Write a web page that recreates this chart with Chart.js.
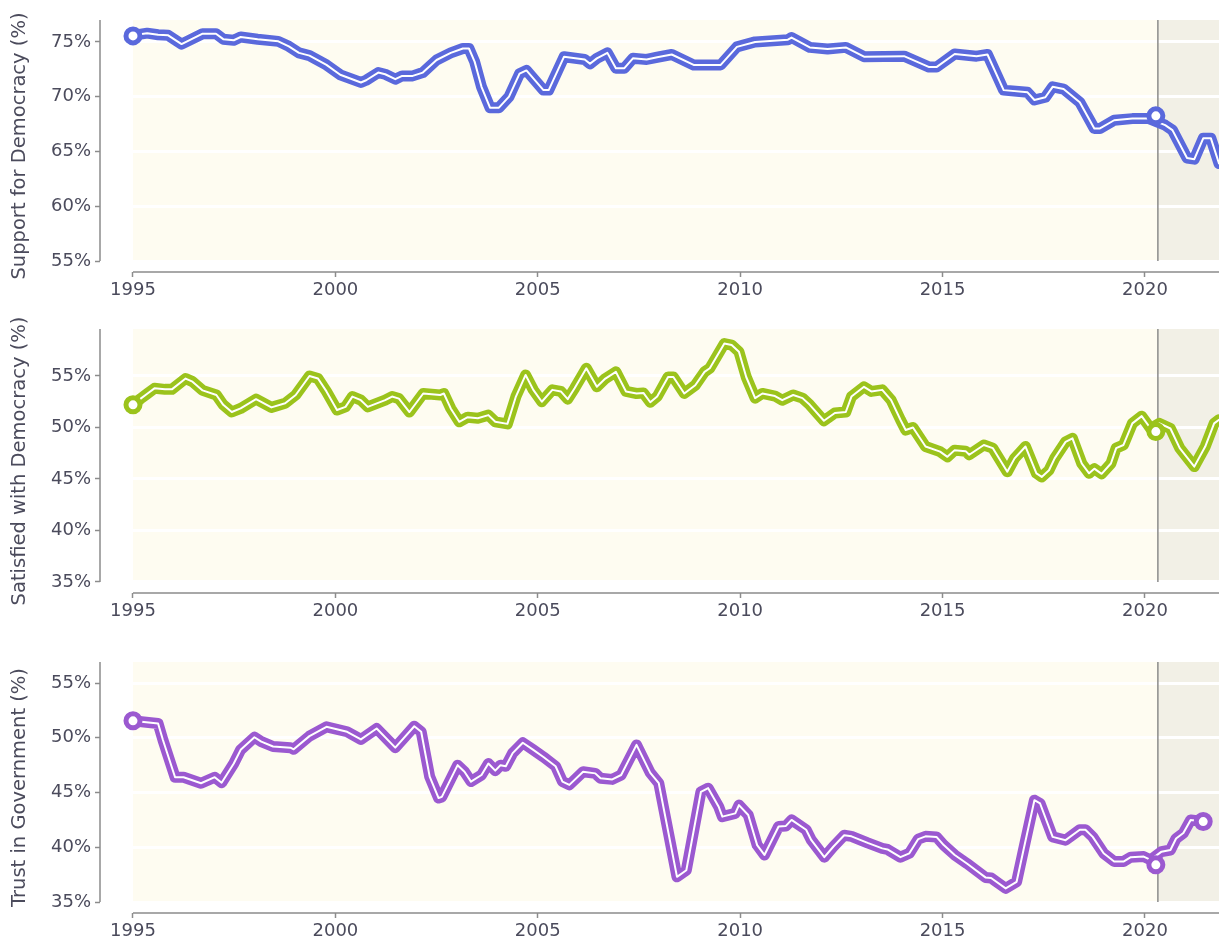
<!DOCTYPE html>
<html>
<head>
<meta charset="utf-8">
<script src="https://cdn.jsdelivr.net/npm/chart.js@4.4.1/dist/chart.umd.min.js"></script>
<style>
  html, body { margin: 0; padding: 0; background: #ffffff; overflow: hidden; }
  .panel { position: absolute; left: 0; }
  canvas { display: block; }
</style>
</head>
<body>
<div class="panel" style="top:0px"><canvas id="c1" width="1219" height="310"></canvas></div>
<div class="panel" style="top:310px"><canvas id="c2" width="1219" height="320"></canvas></div>
<div class="panel" style="top:630px"><canvas id="c3" width="1219" height="310"></canvas></div>
<script>
// tick labels
const xTicks = [1995, 2000, 2005, 2010, 2015, 2020];
const supportTicks = [55, 60, 65, 70, 75];
const satisfiedTicks = [35, 40, 45, 50, 55];
const trustTicks = [35, 40, 45, 50, 55];

// Support for Democracy (%)
const supportYears = [1995.0, 1995.35, 1995.62, 1995.87, 1996.2, 1996.72, 1997.05, 1997.23, 1997.49, 1997.66,
  1998.08, 1998.59, 1998.85, 1999.1, 1999.36, 1999.78, 2000.12, 2000.63, 2000.76, 2001.06,
  2001.23, 2001.48, 2001.65, 2001.91, 2002.16, 2002.5, 2002.85, 2003.15, 2003.3, 2003.44,
  2003.61, 2003.82, 2004.04, 2004.29, 2004.55, 2004.72, 2005.14, 2005.27, 2005.65, 2006.16,
  2006.29, 2006.46, 2006.72, 2006.93, 2007.14, 2007.35, 2007.69, 2007.95, 2008.31, 2008.85,
  2009.52, 2009.92, 2010.37, 2011.18, 2011.27, 2011.72, 2012.16, 2012.61, 2013.06, 2014.05,
  2014.67, 2014.85, 2015.3, 2015.84, 2016.11, 2016.51, 2017.1, 2017.27, 2017.54, 2017.72,
  2017.99, 2018.39, 2018.75, 2018.89, 2019.24, 2019.69, 2020.1, 2020.5, 2020.68, 2021.04,
  2021.22, 2021.44, 2021.63, 2021.83, 2021.95];
const supportValues = [75.6, 75.8, 75.65, 75.6, 74.8, 75.75, 75.75, 75.25, 75.15, 75.45,
  75.25, 75.05, 74.6, 74.0, 73.75, 72.9, 72.0, 71.3, 71.5, 72.2,
  72.05, 71.6, 71.9, 71.9, 72.2, 73.35, 74.0, 74.4, 74.4, 73.2,
  70.9, 69.0, 69.0, 70.0, 72.1, 72.4, 70.6, 70.6, 73.65, 73.4,
  73.0, 73.5, 74.0, 72.6, 72.6, 73.5, 73.4, 73.6, 73.85, 72.9,
  72.9, 74.55, 75.0, 75.2, 75.4, 74.5, 74.35, 74.5, 73.65, 73.7,
  72.7, 72.7, 73.9, 73.7, 73.85, 70.6, 70.4, 69.7, 69.95, 70.9,
  70.7, 69.5, 67.1, 67.1, 67.85, 68.0, 68.0, 67.4, 66.95, 64.4,
  64.3, 66.2, 66.2, 63.9, 63.5];
const supportMarkYears = [1995.0, 2020.27];
const supportMarkValues = [75.55, 68.25];

// Satisfied with Democracy (%)
const satisfiedYears = [1995.0, 1995.19, 1995.36, 1995.53, 1995.79, 1995.96, 1996.3, 1996.47, 1996.72, 1997.06,
  1997.23, 1997.44, 1997.66, 1998.04, 1998.42, 1998.76, 1999.02, 1999.36, 1999.57, 1999.78,
  2000.04, 2000.25, 2000.42, 2000.63, 2000.8, 2001.23, 2001.4, 2001.57, 2001.83, 2002.17,
  2002.59, 2002.68, 2002.85, 2003.06, 2003.27, 2003.52, 2003.78, 2003.95, 2004.25, 2004.46,
  2004.7, 2004.89, 2005.1, 2005.36, 2005.57, 2005.74, 2005.91, 2006.2, 2006.46, 2006.67,
  2006.93, 2007.18, 2007.44, 2007.61, 2007.78, 2007.95, 2008.22, 2008.35, 2008.62, 2008.89,
  2009.12, 2009.25, 2009.61, 2009.79, 2009.97, 2010.15, 2010.37, 2010.55, 2010.86, 2011.04,
  2011.31, 2011.54, 2011.72, 2012.07, 2012.34, 2012.61, 2012.75, 2013.06, 2013.24, 2013.51,
  2013.73, 2013.96, 2014.09, 2014.27, 2014.58, 2014.94, 2015.12, 2015.3, 2015.57, 2015.66,
  2016.02, 2016.24, 2016.6, 2016.78, 2017.05, 2017.32, 2017.45, 2017.63, 2017.77, 2018.04,
  2018.21, 2018.44, 2018.62, 2018.75, 2018.93, 2019.16, 2019.29, 2019.47, 2019.69, 2019.92,
  2020.14, 2020.36, 2020.63, 2020.86, 2021.22, 2021.49, 2021.71, 2021.83, 2021.95];
const satisfiedValues = [52.2, 52.8, 53.3, 53.8, 53.7, 53.7, 54.75, 54.45, 53.6, 53.15,
  52.2, 51.5, 51.85, 52.75, 51.95, 52.35, 53.15, 55.0, 54.75, 53.5,
  51.7, 52.0, 53.0, 52.65, 52.0, 52.65, 53.0, 52.8, 51.5, 53.3,
  53.15, 53.3, 51.85, 50.55, 51.0, 50.9, 51.2, 50.55, 50.35, 53.0,
  55.1, 53.65, 52.5, 53.65, 53.5, 52.75, 53.8, 55.75, 53.95, 54.75,
  55.4, 53.5, 53.3, 53.35, 52.45, 53.0, 54.9, 54.9, 53.3, 54.1,
  55.4, 55.75, 58.15, 58.0, 57.35, 54.9, 52.85, 53.3, 53.05, 52.65,
  53.15, 52.85, 52.2, 50.65, 51.4, 51.5, 53.0, 53.95, 53.5, 53.65,
  52.65, 50.75, 49.75, 50.0, 48.15, 47.65, 47.15, 47.8, 47.7, 47.35,
  48.3, 48.0, 45.7, 47.0, 48.15, 45.55, 45.2, 45.85, 47.0, 48.6,
  48.95, 46.5, 45.55, 46.0, 45.5, 46.5, 48.0, 48.3, 50.4, 51.1,
  49.9, 50.4, 49.9, 48.0, 46.2, 48.15, 50.4, 50.75, 51.0];
const satisfiedMarkYears = [1995.0, 2020.27];
const satisfiedMarkValues = [52.2, 49.6];

// Trust in Government (%)
const trustYears = [1995.0, 1995.27, 1995.62, 1995.74, 1996.04, 1996.25, 1996.68, 1997.02, 1997.19, 1997.49,
  1997.66, 1998.0, 1998.17, 1998.46, 1998.89, 1998.97, 1999.36, 1999.78, 2000.29, 2000.63,
  2001.02, 2001.48, 2001.95, 2002.12, 2002.33, 2002.55, 2002.63, 2003.02, 2003.19, 2003.35,
  2003.61, 2003.78, 2003.95, 2004.08, 2004.21, 2004.38, 2004.63, 2004.89, 2005.14, 2005.44,
  2005.61, 2005.78, 2006.12, 2006.42, 2006.55, 2006.84, 2007.06, 2007.44, 2007.78, 2007.99,
  2008.44, 2008.67, 2009.03, 2009.21, 2009.47, 2009.56, 2009.88, 2009.97, 2010.2, 2010.42,
  2010.6, 2010.95, 2011.13, 2011.27, 2011.63, 2011.76, 2012.08, 2012.3, 2012.57, 2012.75,
  2013.15, 2013.51, 2013.64, 2013.96, 2014.18, 2014.4, 2014.58, 2014.85, 2015.03, 2015.3,
  2015.61, 2016.06, 2016.2, 2016.56, 2016.83, 2017.0, 2017.27, 2017.41, 2017.72, 2018.04,
  2018.39, 2018.53, 2018.71, 2018.98, 2019.24, 2019.47, 2019.65, 2019.97, 2020.14, 2020.41,
  2020.63, 2020.77, 2020.95, 2021.13, 2021.44];
const trustValues = [51.55, 51.45, 51.3, 49.8, 46.4, 46.4, 45.85, 46.4, 45.9, 47.65,
  48.9, 50.05, 49.65, 49.2, 49.1, 48.95, 50.15, 51.0, 50.55, 49.85,
  50.85, 49.1, 51.05, 50.55, 46.45, 44.5, 44.6, 47.5, 46.9, 46.0,
  46.6, 47.65, 47.0, 47.5, 47.4, 48.6, 49.55, 48.9, 48.25, 47.4,
  46.0, 45.7, 46.9, 46.75, 46.3, 46.2, 46.6, 49.35, 46.8, 45.85,
  37.3, 37.9, 45.05, 45.4, 43.7, 42.8, 43.1, 43.85, 42.95, 40.2,
  39.3, 41.9, 41.95, 42.5, 41.6, 40.65, 39.1, 40.05, 41.1, 41.0,
  40.4, 39.9, 39.8, 39.1, 39.45, 40.75, 41.0, 40.95, 40.2, 39.3,
  38.5, 37.25, 37.2, 36.25, 36.85, 39.75, 44.3, 44.0, 40.95, 40.65,
  41.6, 41.6, 40.95, 39.45, 38.7, 38.7, 39.1, 39.15, 38.85, 39.6,
  39.75, 40.8, 41.3, 42.5, 42.35];
const trustMarkYears = [1995.0, 2020.27, 2021.44];
const trustMarkValues = [51.55, 38.4, 42.35];

const textColor = '#4b4b5c';
const axisColor = '#8c8c8c';
const font = { family: 'DejaVu Sans', size: 18 };
const titleFont = { family: 'DejaVu Sans', size: 19.5 };

// Hintergrund, Trennlinie und Achsenlinien
const panelDecor = {
  id: 'panelDecor',
  beforeDraw(chart, args, opts) {
    const { ctx, chartArea, scales: { x, y } } = chart;
    const x0 = x.getPixelForValue(opts.start);
    const xs = x.getPixelForValue(opts.split);
    const yBot = y.getPixelForValue(opts.floor);
    ctx.save();
    ctx.fillStyle = '#fefcf1';
    ctx.fillRect(x0, chartArea.top, xs - x0, yBot - chartArea.top);
    ctx.fillStyle = '#f2f0e6';
    ctx.fillRect(xs, chartArea.top, chartArea.right - xs, yBot - chartArea.top);
    ctx.restore();
  },
  beforeDatasetsDraw(chart, args, opts) {
    const { ctx, chartArea, scales: { x, y } } = chart;
    const x0 = x.getPixelForValue(opts.start);
    const xs = x.getPixelForValue(opts.split);
    const yBot = y.getPixelForValue(opts.floor);
    ctx.save();
    ctx.strokeStyle = axisColor;
    ctx.lineWidth = 1.5;
    ctx.beginPath();
    ctx.moveTo(xs, chartArea.top);
    ctx.lineTo(xs, yBot);
    // y spine
    ctx.moveTo(chartArea.left, chartArea.top);
    ctx.lineTo(chartArea.left, yBot);
    // x spine
    ctx.moveTo(x0, chartArea.bottom);
    ctx.lineTo(chartArea.right, chartArea.bottom);
    ctx.stroke();
    ctx.restore();
  }
};

function makePanel(id, cfg) {
  const pts = cfg.years.map((t, i) => ({ x: t, y: cfg.values[i] }));
  const marks = cfg.markYears.map((t, i) => ({ x: t, y: cfg.markValues[i] }));
  return new Chart(document.getElementById(id), {
    type: 'line',
    data: {
      datasets: [
        { data: marks, showLine: false, pointRadius: 7, pointBorderWidth: 5,
          pointBackgroundColor: '#ffffff', pointBorderColor: cfg.color, order: 0 },
        { data: pts, borderColor: '#ffffff', borderWidth: 2, pointRadius: 0,
          borderJoinStyle: 'round', borderCapStyle: 'round', order: 1 },
        { data: pts, borderColor: cfg.color, borderWidth: 11, pointRadius: 0,
          borderJoinStyle: 'round', borderCapStyle: 'round', order: 2 }
      ]
    },
    options: {
      responsive: false,
      animation: false,
      layout: { autoPadding: false, padding: { top: cfg.top, left: 0, right: 0, bottom: 0 } },
      plugins: {
        legend: { display: false },
        tooltip: { enabled: false },
        panelDecor: { start: 1995, split: 2020.32, floor: cfg.ticks[0] }
      },
      scales: {
        x: {
          type: 'linear', min: 1994.185, max: 2021.83,
          afterBuildTicks: s => { s.ticks = xTicks.map(v => ({ value: v })); },
          afterFit: s => { s.height = cfg.xh; },
          ticks: { callback: v => String(v), font, color: textColor, padding: 3, maxRotation: 0, autoSkip: false },
          grid: { drawOnChartArea: false, tickLength: 5, tickColor: axisColor, tickWidth: 1.5 },
          border: { display: false }
        },
        y: {
          min: cfg.min, max: cfg.max,
          afterBuildTicks: s => { s.ticks = cfg.ticks.map(v => ({ value: v })); },
          afterFit: s => { s.width = 100; },
          ticks: { callback: v => v + '%', font, color: textColor, padding: 4 },
          grid: { color: '#ffffff', lineWidth: 3, tickLength: 5, tickColor: axisColor, tickWidth: 1.5 },
          border: { display: false },
          title: { display: true, text: cfg.title, font: titleFont, color: textColor, padding: { top: 8, bottom: 0 } }
        }
      }
    },
    plugins: [panelDecor]
  });
}

makePanel('c1', { years: supportYears, values: supportValues, markYears: supportMarkYears,
  markValues: supportMarkValues, color: '#5a69dc', ticks: supportTicks, min: 54.0, max: 77.0,
  top: 20, xh: 38, title: 'Support for Democracy (%)' });
makePanel('c2', { years: satisfiedYears, values: satisfiedValues, markYears: satisfiedMarkYears,
  markValues: satisfiedMarkValues, color: '#9bc31c', ticks: satisfiedTicks, min: 33.93, max: 59.56,
  top: 19, xh: 37, title: 'Satisfied with Democracy (%)' });
makePanel('c3', { years: trustYears, values: trustValues, markYears: trustMarkYears,
  markValues: trustMarkValues, color: '#9b59d0', ticks: trustTicks, min: 34.0, max: 56.92,
  top: 32, xh: 27, title: 'Trust in Government (%)' });
</script>
</body>
</html>
